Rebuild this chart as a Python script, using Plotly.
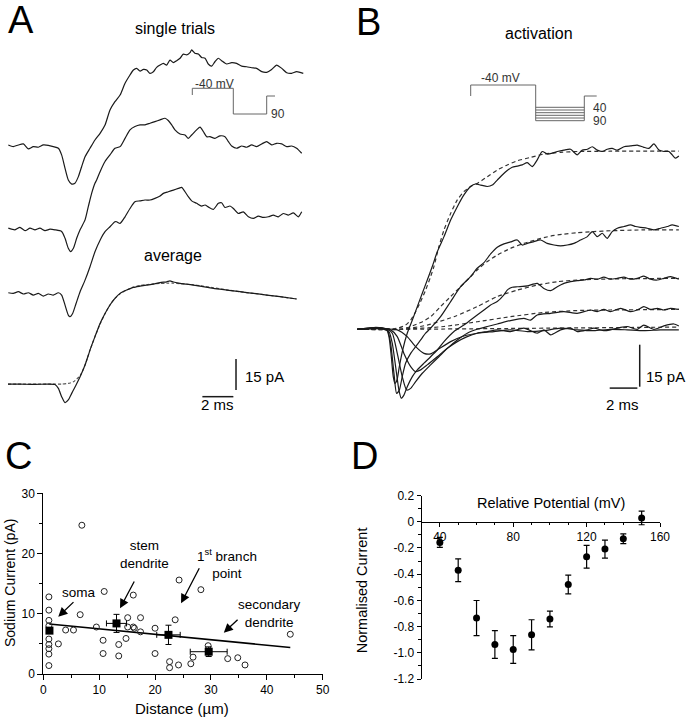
import plotly.graph_objects as go

W, H = 688, 719
FONT = "Liberation Sans, Arial, Helvetica, sans-serif"
INK = "#1a1a1a"

# ======================= DATA =======================
# Panel A - single trials and average (time in ms, current in pA relative to baseline)
A_TRIAL1_T = [0.02,0.34,0.67,0.99,1.31,1.63,1.96,2.28,2.60,2.92,3.25,3.46,3.68,3.89,4.11,4.32,4.54,4.75,4.97,5.29,
              5.61,5.94,6.26,6.58,6.90,7.23,7.55,7.87,8.09,8.30,8.52,8.73,8.95,9.16,9.38,9.59,9.81,10.02,10.24,10.45,
              10.67,10.88,11.10,11.31,11.53,11.74,11.85,12.06,12.28,12.49,12.71,12.92,13.14,13.35,13.57,13.78,14.11,
              14.43,14.75,15.08,15.40,15.72,16.04,16.37,16.69,17.01,17.33,17.66,17.98,18.30,18.62,19.05]
A_TRIAL1_I = [0.5,-0.3,0.5,1.0,-1.4,-0.3,-0.6,0.5,0.3,-0.3,-1.1,-4.3,-10.8,-16.4,-18.4,-18.0,-14.8,-10.0,-5.2,-1.1,
              2.9,6.1,10.1,17.4,21.4,24.6,30.3,34.3,36.7,37.5,36.2,37.0,36.7,35.1,35.9,38.0,39.1,39.9,39.1,41.5,
              40.3,41.2,42.4,44.4,44.0,45.1,46.4,44.8,44.4,42.8,42.4,39.6,38.6,40.7,42.4,41.2,39.6,
              40.3,39.9,38.6,38.3,37.8,37.5,35.9,35.6,37.0,39.1,37.5,35.4,35.1,35.9,35.1]

A_TRIAL2_T = [0.02,0.45,0.77,1.10,1.42,1.74,2.06,2.39,2.71,3.03,3.46,3.68,3.89,4.04,4.22,4.43,4.65,4.97,5.18,5.40,
              5.61,5.72,5.94,6.26,6.58,6.90,7.23,7.55,7.87,8.19,8.52,8.84,9.16,9.48,9.81,10.13,10.34,10.56,10.77,11.10,
              11.42,11.63,11.85,12.17,12.39,12.60,12.82,13.03,13.35,13.68,14.00,14.22,14.43,14.75,15.08,15.40,15.72,
              16.04,16.37,16.69,17.01,17.33,17.66,17.98,18.30,18.62,18.95]
A_TRIAL2_I = [0.2,-0.6,0.6,-1.0,0.2,-0.6,0.2,-1.0,-0.3,-0.6,-1.4,-4.7,-9.5,-11.1,-9.5,-4.7,-0.6,4.2,10.6,17.1,
              21.9,23.5,27.5,32.4,35.6,38.8,39.6,43.6,47.7,49.3,50.1,50.1,50.9,51.7,52.5,53.3,52.2,50.1,47.7,45.7,
              45.2,43.6,45.2,47.7,49.0,46.9,44.4,44.4,43.6,44.8,44.4,42.0,39.9,38.8,39.9,39.3,40.4,
              39.6,40.9,42.0,40.4,41.2,40.9,39.6,39.9,38.8,36.4]

A_TRIAL3_T = [0.02,0.34,0.67,0.99,1.31,1.63,1.96,2.28,2.60,2.92,3.25,3.46,3.68,3.89,4.00,4.17,4.39,4.65,4.97,5.29,
              5.61,5.94,6.26,6.58,6.90,7.01,7.23,7.55,7.87,8.19,8.52,8.84,9.16,9.48,9.81,10.02,10.34,10.67,10.99,11.20,
              11.42,11.63,11.85,12.17,12.49,12.71,12.92,13.25,13.57,13.78,14.00,14.32,14.54,14.86,15.18,15.51,15.83,
              16.15,16.47,16.80,17.12,17.44,17.76,18.09,18.41,18.73,18.95]
A_TRIAL3_I = [0,-0.3,0.5,-0.6,0,-1.1,-0.3,-1.6,-0.6,-1.1,0,-1.1,-6.0,-10.8,-11.6,-10.0,-5.2,0.5,6.1,12.6,
              19.8,25.4,29.5,31.9,34.3,34.3,33.5,36.7,40.7,44.0,44.4,44.8,44.8,45.6,46.7,48.0,48.8,49.6,50.4,50.9,
              48.8,46.4,44.4,43.2,41.9,42.4,41.5,40.3,43.2,43.5,41.2,41.9,40.7,38.3,39.1,36.7,35.9,
              37.0,36.4,36.7,37.5,36.7,38.3,37.5,38.6,36.7,39.1]

A_AVG_T = [0,0.77,1.63,2.49,3.03,3.25,3.46,3.68,3.89,4.11,4.39,4.65,4.97,5.29,5.61,5.94,6.26,6.58,6.90,7.23,
           7.66,8.09,8.52,8.95,9.38,9.81,10.24,10.45,10.67,11.10,11.53,11.96,12.39,13.25,14.11,14.97,15.83,16.69,17.55,18.62]
A_AVG_I = [0,0,-0.2,0,-0.2,-2.1,-6.1,-9.0,-7.7,-4.5,-0.5,3.5,9.2,16.4,22.9,29.3,34.1,38.2,41.4,43.8,
           45.4,46.7,47.3,47.8,48.3,49.0,49.4,49.8,49.3,48.6,48.3,47.8,47.3,46.2,45.4,44.6,43.8,43.0,42.2,41.1]

A_FIT_T = [0,3.03,3.46,3.89,4.22,4.43,4.65,4.97,5.29,5.61,5.94,6.26,6.58,6.90,7.23,7.66,8.09,8.52,8.95,9.38,
           9.81,10.24,10.67,11.10,11.53,11.96,12.39,13.25,14.11,14.97,15.83,16.69,17.55,18.62]
A_FIT_I = [0,0,0,0.3,1.1,2.4,4.0,9.2,16.4,22.9,29.0,34.0,38.2,41.4,43.6,45.5,46.8,47.6,48.1,48.4,
           48.6,48.7,48.7,48.5,48.2,47.9,47.5,46.5,45.5,44.6,43.8,43.0,42.2,41.1]

# Panel B - activation family (time in ms, current in pA)
B_TR1_T = [0.00,0.72,1.33,1.81,2.12,2.29,2.46,2.60,2.72,2.87,3.04,3.28,3.61,3.98,4.34,4.70,5.06,5.42,5.78,6.27,
           6.75,7.23,7.71,8.19,8.55,8.92,9.40,9.76,10.12,10.48,10.84,11.20,11.57,11.93,12.29,12.65,13.01,13.37,
           13.73,14.10,14.46,14.94,15.42,15.90,16.27,16.63,16.99,17.35,17.71,18.07,18.43,18.80,19.28,19.76,20.24,
           20.72,21.08,21.45,21.81,22.17,22.53,22.77,23.01,23.25]
B_TR1_I = [0.0,0.2,0.7,0.4,-0.2,-2.6,-9.8,-16.9,-19.3,-18.1,-13.3,-7.4,-1.4,3.3,8.1,12.9,17.6,22.4,27.7,33.1,
           39.0,43.8,48.0,51.0,51.9,51.5,51.0,51.5,53.3,55.1,56.7,57.9,58.3,58.7,59.5,58.1,60.5,63.5,
           62.6,62.9,63.5,64.0,64.3,62.3,64.0,64.3,65.2,64.0,63.5,64.3,64.6,64.0,65.2,65.5,65.8,
           65.0,64.6,66.2,64.0,63.5,63.5,62.3,61.1,61.9]
B_FIT1_T = [0,2.65,3.01,3.49,3.86,4.22,4.58,4.94,5.30,5.54,5.90,6.27,6.75,7.23,7.71,8.19,8.67,9.40,10.12,10.84,
            11.57,12.53,13.49,14.70,15.90,18.31,23.25]
B_FIT1_I = [0,0.2,0.5,1.5,3.3,6.3,9.9,14.0,18.8,22.4,29.5,35.5,41.4,46.2,49.2,51.0,52.1,54.5,56.9,58.7,
            60.2,61.4,62.6,63.2,63.5,63.6,63.6]

B_TR2_T = [0,0.96,1.69,2.17,2.41,2.65,2.84,3.04,3.25,3.49,3.86,4.22,4.58,4.94,5.30,6.02,6.75,7.47,8.19,8.67,
           9.16,9.64,10.12,10.60,11.08,11.57,11.93,12.29,12.77,13.25,13.73,14.22,14.70,15.18,15.66,16.14,16.63,
           16.99,17.35,17.71,18.07,18.43,18.80,19.28,19.76,20.12,20.48,20.96,21.45,21.93,22.41,22.77,23.25]
B_TR2_I = [0,0.4,0.6,-0.2,-5.0,-15.7,-22.9,-21.7,-16.9,-12.1,-8.6,-6.2,-3.8,-1.4,0.4,4.5,9.9,15.2,18.8,21.8,
           23.8,26.9,29.3,30.5,31.2,31.9,30.1,30.7,31.3,31.9,30.7,30.1,29.8,30.1,30.7,31.9,33.1,
           34.9,33.1,34.3,32.5,34.9,36.1,36.7,37.3,36.7,36.4,36.1,35.5,36.1,36.7,37.3,36.7]
B_FIT2_T = [0,3.13,3.86,4.58,5.30,6.02,6.75,7.47,8.19,8.67,9.40,10.12,11.08,12.05,13.01,13.98,14.94,15.90,
            17.11,18.31,20.72,23.25]
B_FIT2_I = [0,0,1.0,2.4,4.5,8.1,11.7,15.2,18.8,21.2,24.2,26.5,28.9,30.7,32.1,33.3,34.0,34.5,
            34.9,35.2,35.5,35.5]

B_TR3_T = [0,0.96,1.93,2.29,2.53,2.77,3.01,3.18,3.37,3.61,3.98,4.34,4.82,5.30,5.78,6.27,6.99,7.71,8.19,8.67,
           9.16,9.64,10.12,10.60,10.84,11.20,11.57,12.29,13.01,13.49,13.98,14.46,14.94,15.42,15.90,16.39,16.87,
           17.35,17.83,18.31,18.80,19.28,19.76,20.24,20.72,21.20,21.69,22.17,22.65,23.25]
B_TR3_I = [0,0.4,0,-0.8,-5.0,-13.3,-21.7,-24.6,-23.5,-20.5,-16.9,-14.5,-12.1,-9.8,-7.4,-4.4,-0.8,1.5,3.3,5.1,
           6.9,8.7,9.9,12.3,14.0,15.0,15.2,15.5,16.4,14.6,13.8,15.2,16.4,17.0,17.4,17.6,18.2,
           17.9,18.6,17.9,18.2,18.6,17.9,18.2,19.0,17.9,17.6,18.2,18.8,17.9]
B_FIT3_T = [0,3.13,5.06,6.99,8.67,10.12,11.57,13.01,14.46,15.90,18.31,23.25]
B_FIT3_I = [0,0,1.5,4.5,8.1,11.7,14.0,15.8,17.0,17.6,18.0,18.2]

B_TR4_T = [0,1.20,2.17,2.53,2.89,3.25,3.57,3.86,4.22,4.70,5.30,5.90,6.51,7.23,7.95,8.67,9.40,10.12,11.08,12.05,
           12.53,13.01,13.98,14.94,15.90,16.87,17.35,17.83,18.31,19.04,19.76,20.24,20.72,21.20,21.69,22.17,22.65,23.25]
B_TR4_I = [0,0.5,0,-1.4,-8.6,-16.9,-21.7,-21.1,-18.7,-15.7,-12.7,-9.8,-6.8,-3.8,-1.4,0,1.0,1.9,3.1,3.9,
           3.3,5.1,5.7,6.3,5.7,6.9,6.3,7.1,6.3,7.5,6.3,6.9,8.1,7.1,7.5,6.9,7.5,7.1]
B_FIT4_T = [0,3.13,6.27,8.67,11.08,13.49,15.90,18.31,23.25]
B_FIT4_I = [0,0,1.0,2.7,4.5,6.0,6.7,6.9,7.1]

B_TR5_T = [0,1.45,2.41,2.89,3.37,3.86,4.22,4.58,5.06,5.78,6.51,7.23,7.95,8.67,9.40,10.12,11.08,12.05,13.01,13.49,
           13.98,14.70,15.42,15.90,16.63,17.11,17.83,18.31,19.04,19.52,20.24,20.72,21.45,22.17,22.89,23.25]
B_TR5_I = [0,0.4,-0.2,-2.6,-8.6,-13.3,-15.1,-14.5,-12.7,-9.8,-6.8,-4.4,-2.6,-1.4,-0.8,-0.2,-0.8,0.4,-1.4,-0.2,
           -2.0,-0.2,0.4,-0.8,-0.2,0.4,-0.5,-0.2,0.7,1.0,0,1.5,0,1.2,1.9,1.2]
B_FIT5_T = [0,3.13,23.25]
B_FIT5_I = [0,0,0.8]

B_TR6_T = [0,1.93,2.89,3.61,4.22,4.82,5.30,5.78,6.75,7.71,8.67,9.88,11.08,12.29,13.49,14.70,15.90,17.11,18.31,
           19.52,20.72,21.93,23.25]
B_TR6_I = [0,0.2,-0.2,-2.6,-6.2,-8.6,-8.8,-7.4,-4.4,-2.4,-1.4,-0.8,-0.2,-0.8,-0.5,0.4,-0.2,-0.5,0,
           -0.2,-0.5,-0.2,-0.2]

SCALE_MS = 2
SCALE_PA = 15

# Panel C - sodium current vs distance
C_CELL_X = [1.0,1.0,1.0,1.0,1.0,1.0,1.0,1.0,1.0,2.7,4.0,5.4,6.6,6.9,9.5,10.7,10.7,10.9,13.5,13.5,14.8,15.1,15.1,
            16.1,16.1,16.3,17.4,17.4,20.0,20.0,22.6,22.6,23.6,24.2,24.3,26.4,26.8,28.2,29.5,33.0,34.8,36.1,44.2]
C_CELL_Y = [12.8,10.6,8.9,8.0,5.8,4.9,4.2,3.3,1.4,5.0,7.3,7.3,9.85,24.7,7.8,5.6,3.4,13.7,4.9,3.0,5.9,9.35,7.8,
            13.1,7.8,7.6,9.35,7.0,7.6,3.4,2.05,1.05,9.0,1.5,15.6,1.7,2.8,14.0,4.7,2.55,2.7,1.5,6.6]
C_MEAN_X = [1.1, 13.1, 22.4, 29.6]
C_MEAN_Y = [7.2, 8.4, 6.5, 3.7]
C_MEAN_XERR = [0, 1.8, 2.1, 3.3]
C_MEAN_YERR = [0, 1.5, 1.6, 0.8]
C_FIT_X = [1.07, 44.2]
C_FIT_Y = [8.3, 4.4]
C_X_TICKS = [0, 10, 20, 30, 40, 50]
C_Y_TICKS = [0, 10, 20, 30]

# Panel D - normalised current vs relative potential
D_X = [40, 50, 60, 70, 80, 90, 100, 110, 120, 130, 140, 150]
D_Y = [-0.158, -0.37, -0.735, -0.937, -0.975, -0.863, -0.742, -0.479, -0.267, -0.209, -0.13, 0.029]
D_ERR = [0.038, 0.087, 0.134, 0.106, 0.106, 0.115, 0.06, 0.072, 0.087, 0.069, 0.037, 0.052]
D_X_TICKS = [40, 80, 120, 160]
D_Y_TICKS = [-1.2, -1.0, -0.8, -0.6, -0.4, -0.2, 0, 0.2]
D_Y_LABELS = ["-1.2", "-1.0", "-0.8", "-0.6", "-0.4", "-0.2", "0", "0.2"]

# ======================= LAYOUT HELPERS =======================
def fx(p):
    return p / W


def fy(p):
    return 1 - p / H


A_OFFSETS = [137.2, 97.3, 66.3, 22.2]          # vertical stacking of the A traces (pA)
A_PX_MS, A_PX_PA, A_X0 = 15.5, 2.07, 8.0
B_PX_MS, B_PX_PA, B_X0, B_Y0 = 13.83, 2.8, 357.3, 329.3
TOP_H = 430.0

fig = go.Figure()


def line(t, i, xa, ya, offset=0.0, dash=None, color=INK, width=1.2, smooth=True):
    fig.add_trace(go.Scatter(
        x=t, y=[offset + v for v in i], xaxis=xa, yaxis=ya, mode="lines",
        line=dict(color=color, width=width, dash=dash,
                  shape="spline" if smooth else "linear", smoothing=0.6),
        hoverinfo="skip", showlegend=False))


# ---- Panel A ----
line(A_TRIAL1_T, A_TRIAL1_I, "x", "y", A_OFFSETS[0])
line(A_TRIAL2_T, A_TRIAL2_I, "x", "y", A_OFFSETS[1])
line(A_TRIAL3_T, A_TRIAL3_I, "x", "y", A_OFFSETS[2])
line(A_FIT_T, A_FIT_I, "x", "y", A_OFFSETS[3], dash="3px,2px", color="#555", width=1.2)
line(A_AVG_T, A_AVG_I, "x", "y", A_OFFSETS[3])
# scale bars A
a_bx, a_by = 12.54, 16.1
line([a_bx, a_bx + SCALE_MS], [0, 0], "x", "y", a_by, width=1.5, smooth=False)
line([14.71, 14.71], [0, SCALE_PA], "x", "y", 19.3, width=1.5, smooth=False)

# ---- Panel B ----
for (tt, ii) in [(B_FIT1_T, B_FIT1_I), (B_FIT2_T, B_FIT2_I), (B_FIT3_T, B_FIT3_I),
                 (B_FIT4_T, B_FIT4_I), (B_FIT5_T, B_FIT5_I)]:
    line(tt, ii, "x2", "y2", dash="4px,3px", color="#333", width=1.2)
for (tt, ii) in [(B_TR6_T, B_TR6_I), (B_TR5_T, B_TR5_I), (B_TR4_T, B_TR4_I),
                 (B_TR3_T, B_TR3_I), (B_TR2_T, B_TR2_I), (B_TR1_T, B_TR1_I)]:
    line(tt, ii, "x2", "y2")
line([18.25, 18.25 + SCALE_MS], [0, 0], "x2", "y2", -21.0, width=1.5, smooth=False)
line([20.42, 20.42], [0, SCALE_PA], "x2", "y2", -20.5, width=1.5, smooth=False)

# ---- Panel C ----
fig.add_trace(go.Scatter(x=C_FIT_X, y=C_FIT_Y, xaxis="x3", yaxis="y3", mode="lines",
                         line=dict(color="black", width=1.6), hoverinfo="skip", showlegend=False))
fig.add_trace(go.Scatter(x=C_CELL_X, y=C_CELL_Y, xaxis="x3", yaxis="y3", mode="markers",
                         marker=dict(symbol="circle-open", size=6, color="#222", line=dict(width=1)),
                         hoverinfo="skip", showlegend=False, cliponaxis=False))
fig.add_trace(go.Scatter(x=C_MEAN_X, y=C_MEAN_Y, xaxis="x3", yaxis="y3", mode="markers",
                         marker=dict(symbol="square", size=8, color="black"),
                         error_x=dict(type="data", array=C_MEAN_XERR, color="black", thickness=1, width=3),
                         error_y=dict(type="data", array=C_MEAN_YERR, color="black", thickness=1, width=3),
                         hoverinfo="skip", showlegend=False, cliponaxis=False))

# ---- Panel D ----
fig.add_trace(go.Scatter(x=D_X, y=D_Y, xaxis="x4", yaxis="y4", mode="markers",
                         marker=dict(symbol="circle", size=7, color="black"),
                         error_y=dict(type="data", array=D_ERR, color="black", thickness=1.2, width=3),
                         hoverinfo="skip", showlegend=False, cliponaxis=False))

hidden = dict(visible=False, showgrid=False, zeroline=False, automargin=False)
C_DOM_X = [fx(43.3), fx(322.7)]
C_DOM_Y = [fy(674), fy(493.3)]
D_DOM_X = [fx(421.5), fx(660)]
D_DOM_Y = [fy(679), fy(495.5)]
D_RANGE_Y = [-1.2, 0.2]
d_zero = D_DOM_Y[0] + (0 - D_RANGE_Y[0]) / (D_RANGE_Y[1] - D_RANGE_Y[0]) * (D_DOM_Y[1] - D_DOM_Y[0])

axis_common = dict(showline=True, linecolor="black", linewidth=1, ticks="outside", tickcolor="black",
                   showgrid=False, zeroline=False, automargin=False,
                   tickfont=dict(family=FONT, size=12, color="black"))

fig.update_layout(
    width=W, height=H, margin=dict(l=0, r=0, t=0, b=0),
    paper_bgcolor="white", plot_bgcolor="rgba(0,0,0,0)",
    font=dict(family=FONT, color="black"), showlegend=False,
    xaxis=dict(domain=[0, 0.5], range=[-A_X0 / A_PX_MS, (344 - A_X0) / A_PX_MS], anchor="y", **hidden),
    yaxis=dict(domain=[fy(TOP_H), 1], range=[0, TOP_H / A_PX_PA], anchor="x", **hidden),
    xaxis2=dict(domain=[0.5, 1], range=[(344 - B_X0) / B_PX_MS, (688 - B_X0) / B_PX_MS], anchor="y2", **hidden),
    yaxis2=dict(domain=[fy(TOP_H), 1], range=[(B_Y0 - TOP_H) / B_PX_PA, B_Y0 / B_PX_PA], anchor="x2", **hidden),
    xaxis3=dict(domain=C_DOM_X, range=[0, 50], anchor="y3", tickvals=C_X_TICKS, ticklen=5,
                minor=dict(dtick=5, ticks="outside", ticklen=3, tickcolor="black"), **axis_common),
    yaxis3=dict(domain=C_DOM_Y, range=[0, 30], anchor="x3", tickvals=C_Y_TICKS, ticklen=5,
                minor=dict(dtick=5, ticks="outside", ticklen=3, tickcolor="black"), **axis_common),
    xaxis4=dict(domain=D_DOM_X, range=[30, 160], anchor="free", position=d_zero, tickvals=D_X_TICKS,
                ticklen=4, minor=dict(dtick=10, ticks="outside", ticklen=2.5, tickcolor="black"), **axis_common),
    yaxis4=dict(domain=D_DOM_Y, range=D_RANGE_Y, anchor="x4", tickvals=D_Y_TICKS, ticktext=D_Y_LABELS,
                ticklen=4, minor=dict(dtick=0.1, ticks="outside", ticklen=2.5, tickcolor="black"), **axis_common),
)

ann = []


def text(x, y, s, size, xanchor="center", angle=0, color="black"):
    ann.append(dict(x=fx(x), y=fy(y), xref="paper", yref="paper", text=s, showarrow=False,
                    xanchor=xanchor, yanchor="middle", textangle=angle,
                    font=dict(family=FONT, size=size, color=color)))


# panel letters
text(6, 20, "A", 38, "left")
text(354, 21.5, "B", 38, "left")
text(3, 456, "C", 38, "left")
text(349, 456, "D", 38, "left")
# panel A text
text(175, 29, "single trials", 16)
text(173, 256, "average", 16)
text(214, 84, "-40 mV", 12, color="#333")
text(269, 114, "90", 12, "left", color="#333")
text(243, 376, "15 pA", 15, "left")
text(217.5, 404, "2 ms", 15)
# panel B text
text(539, 33, "activation", 16)
text(500, 78.5, "-40 mV", 12, color="#333")
text(591, 107.5, "40", 12, "left", color="#333")
text(591, 121, "90", 12, "left", color="#333")
text(644, 377, "15 pA", 15, "left")
text(622, 404, "2 ms", 15)
# panel C text
text(181.7, 708, "Distance (\u00b5m)", 15)
text(10, 583, "Sodium Current (pA)", 14, angle=-90)
text(79, 592, "soma", 13.5)
text(144, 554.5, "stem<br>dendrite", 13.5)
text(226.7, 563, "1<sup>st</sup> branch<br>point", 13.5)
text(269.3, 613.7, "secondary<br>dendrite", 13.5)
# panel D text
text(550.7, 502.7, "Relative Potential (mV)", 14.5)
text(362.3, 590, "Normalised Current", 14.5, angle=-90)

# arrows in C (tip in data coordinates, tail offset in px)
for (tx, ty, axp, ayp) in [(2.68, 9.52, 16.7, -16.0), (13.73, 10.91, 15.0, -28.3),
                           (24.65, 11.74, 19.0, -36.6), (32.3, 6.86, 15.3, -14.4)]:
    ann.append(dict(x=tx, y=ty, xref="x3", yref="y3", ax=axp, ay=ayp, text="", showarrow=True,
                    arrowhead=2, arrowsize=1.4, arrowwidth=1.3, arrowcolor="black"))

fig.update_layout(annotations=ann)

# voltage protocol insets (schematic), paper coordinates
def path(points):
    return "M " + " L ".join(f"{fx(a)},{fy(b)}" for a, b in points)


shapes = []
grey = dict(color="#666", width=1)
shapes.append(dict(type="path", xref="paper", yref="paper", line=grey,
                   path=path([(192.3, 95), (192.3, 88.3), (233.3, 88.3), (233.3, 114), (266.7, 114),
                              (266.7, 96), (275, 96)])))
shapes.append(dict(type="path", xref="paper", yref="paper", line=grey,
                   path=path([(470.7, 96), (470.7, 85), (535.7, 85), (535.7, 120.7)])))
for yy in [107.3, 110, 112.7, 115.3, 118, 120.7]:
    shapes.append(dict(type="path", xref="paper", yref="paper", line=grey,
                       path=path([(535.7, yy), (584.3, yy)])))
shapes.append(dict(type="path", xref="paper", yref="paper", line=grey,
                   path=path([(584.3, 120.7), (584.3, 96), (596.7, 96)])))
fig.update_layout(shapes=shapes)

fig.write_html("out.html", config={"displayModeBar": False, "staticPlot": True},
               post_script="document.body.style.margin='0px';document.body.style.overflow='hidden';")
